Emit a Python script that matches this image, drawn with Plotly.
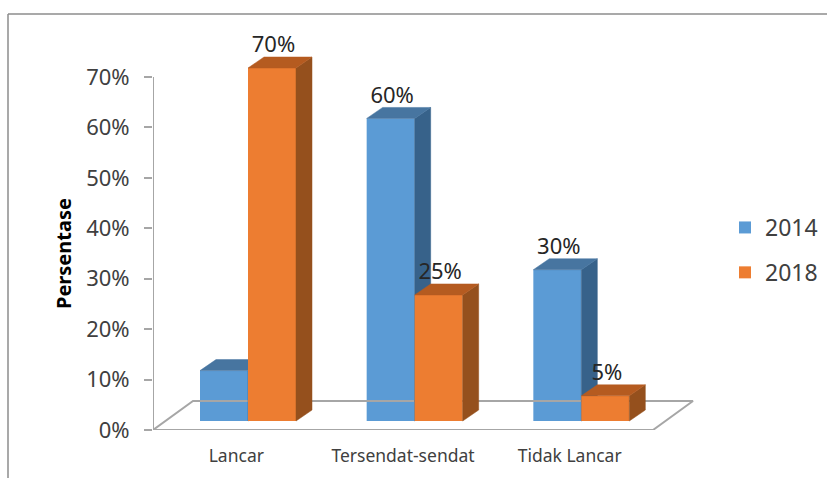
import plotly.graph_objects as go

categories = ["Lancar", "Tersendat-sendat", "Tidak Lancar"]
values_2014 = [10, 60, 30]
values_2018 = [70, 25, 5]
y_ticks = [0, 10, 20, 30, 40, 50, 60, 70]
y_tick_labels = ["0%", "10%", "20%", "30%", "40%", "50%", "60%", "70%"]

FONT = "Noto Sans"
FLOOR_BASE = 1.78
BAR_W = 0.288
SHIFT = 0.07
DX, DY = 0.096, 2.18
FLOOR_DX, FLOOR_DY = 0.24, 5.75
X_MAX, Y_MAX = 3.402, 81.3

BLUE, BLUE_TOP, BLUE_SIDE = "#5B9BD5", "#4775A0", "#37628A"
ORANGE, ORANGE_TOP, ORANGE_SIDE = "#ED7D31", "#B55B20", "#95501D"
GRID = "#A6A6A6"

# plot area in pixels
L, R, T, B = 153, 720, 20, 430
PW, PH = R - L, B - T

centers = [i + 0.5 + SHIFT for i in range(len(categories))]


def faces(values, left_offset):
    """Top and side faces of the 3D bars, derived from the values."""
    top_x, top_y, side_x, side_y = [], [], [], []
    for c, v in zip(centers, values):
        x0 = c + left_offset
        x1 = x0 + BAR_W
        y1 = v + FLOOR_BASE
        top_x += [x0, x0 + DX, x1 + DX, x1, x0, None]
        top_y += [y1, y1 + DY, y1 + DY, y1, y1, None]
        side_x += [x1, x1 + DX, x1 + DX, x1, x1, None]
        side_y += [y1, y1 + DY, FLOOR_BASE + DY, FLOOR_BASE, y1, None]
    return top_x, top_y, side_x, side_y


def poly(x, y, color, xa, ya):
    return go.Scatter(x=x, y=y, mode="lines", fill="toself", fillcolor=color,
                      line=dict(color=color, width=0.5), hoverinfo="skip",
                      showlegend=False, cliponaxis=False, xaxis=xa, yaxis=ya)


fig = go.Figure()

n = len(categories)
# floor of the 3D box
fig.add_trace(go.Scatter(
    x=[0, FLOOR_DX, n + FLOOR_DX, n, 0], y=[0, FLOOR_DY, FLOOR_DY, 0, 0],
    mode="lines", line=dict(color=GRID, width=2), hoverinfo="skip",
    showlegend=False, cliponaxis=False))
# value axis line, stops at the top tick
fig.add_trace(go.Scatter(
    x=[0, 0], y=[y_ticks[0], y_ticks[-1]],
    mode="lines", line=dict(color=GRID, width=2), hoverinfo="skip",
    showlegend=False, cliponaxis=False))

# 2014 series on the first layer
tx, ty, sx, sy = faces(values_2014, -BAR_W)
fig.add_trace(go.Bar(
    x=[c - BAR_W / 2 for c in centers], y=values_2014, base=FLOOR_BASE, width=BAR_W,
    marker=dict(color=BLUE, line=dict(width=0)), name="2014", legendgroup="a"))
fig.add_trace(poly(sx, sy, BLUE_SIDE, "x", "y"))
fig.add_trace(poly(tx, ty, BLUE_TOP, "x", "y"))

# 2018 series on an overlaid layer so it sits in front of the 2014 side faces
tx, ty, sx, sy = faces(values_2018, 0)
fig.add_trace(go.Bar(
    x=[c + BAR_W / 2 for c in centers], y=values_2018, base=FLOOR_BASE, width=BAR_W,
    marker=dict(color=ORANGE, line=dict(width=0)), name="2018", legendgroup="b",
    xaxis="x2", yaxis="y2"))
fig.add_trace(poly(sx, sy, ORANGE_SIDE, "x2", "y2"))
fig.add_trace(poly(tx, ty, ORANGE_TOP, "x2", "y2"))

# data labels (the reference shows none on the 10% bar)
LABEL_UP = 4.2
LABEL_RIGHT = 0.009
lab_x = [c - BAR_W / 2 + LABEL_RIGHT for c in centers] + [c + BAR_W / 2 + LABEL_RIGHT for c in centers]
lab_v = values_2014 + values_2018
lab_t = ["" if v == 10 else f"{v}%" for v in lab_v]
fig.add_trace(go.Scatter(
    x=lab_x, y=[v + FLOOR_BASE + LABEL_UP for v in lab_v],
    text=lab_t, mode="text", textposition="middle center",
    textfont=dict(family=FONT, size=22, color="#262626"), hoverinfo="skip",
    showlegend=False, cliponaxis=False, xaxis="x2", yaxis="y2"))

fig.update_layout(
    width=827, height=478, autosize=False,
    margin=dict(l=L, r=827 - R, t=T, b=478 - B, pad=0, autoexpand=False),
    paper_bgcolor="white", plot_bgcolor="rgba(0,0,0,0)",
    barmode="overlay", showlegend=True,
    font=dict(family=FONT, color="#404040"),
    xaxis=dict(range=[0, X_MAX], tickmode="array", tickvals=[i + 0.5 for i in range(n)],
               ticktext=categories, showgrid=False, zeroline=False, showline=False,
               ticks="", ticklabelstandoff=13, tickfont=dict(family=FONT, size=17.5, color="#404040")),
    yaxis=dict(range=[0, Y_MAX], tickmode="array", tickvals=y_ticks, ticktext=y_tick_labels,
               showgrid=False, zeroline=False, showline=False,
               ticks="outside", ticklen=8, tickwidth=1.5, tickcolor=GRID,
               ticklabelstandoff=10, tickfont=dict(family=FONT, size=22, color="#404040")),
    xaxis2=dict(range=[0, X_MAX], overlaying="x", visible=False),
    yaxis2=dict(range=[0, Y_MAX], overlaying="y", visible=False),
    legend=dict(x=(725 - L) / PW, y=(B - 250) / PH, xanchor="left", yanchor="middle",
                font=dict(family=FONT, size=23, color="#404040"),
                tracegroupgap=12, bgcolor="rgba(0,0,0,0)"),
    annotations=[
        dict(text="<b>Persentase</b>", textangle=-90, xref="paper", yref="paper",
             x=(63 - L) / PW, y=(B - 254) / PH, xanchor="center", yanchor="middle",
             showarrow=False, font=dict(family=FONT, size=20, color="#000000")),
    ],
    shapes=[
        dict(type="line", xref="paper", yref="paper",
             x0=(8 - L) / PW, x1=(827 - L) / PW, y0=(B - 14) / PH, y1=(B - 14) / PH,
             line=dict(color="#8C8C8C", width=1.5)),
        dict(type="line", xref="paper", yref="paper",
             x0=(8 - L) / PW, x1=(8 - L) / PW, y0=(B - 14) / PH, y1=(B - 478) / PH,
             line=dict(color="#8C8C8C", width=1.5)),
    ],
)

fig.write_html("out.html", config=dict(displayModeBar=False),
               post_script="document.body.style.margin='0';document.body.style.overflow='hidden';")
